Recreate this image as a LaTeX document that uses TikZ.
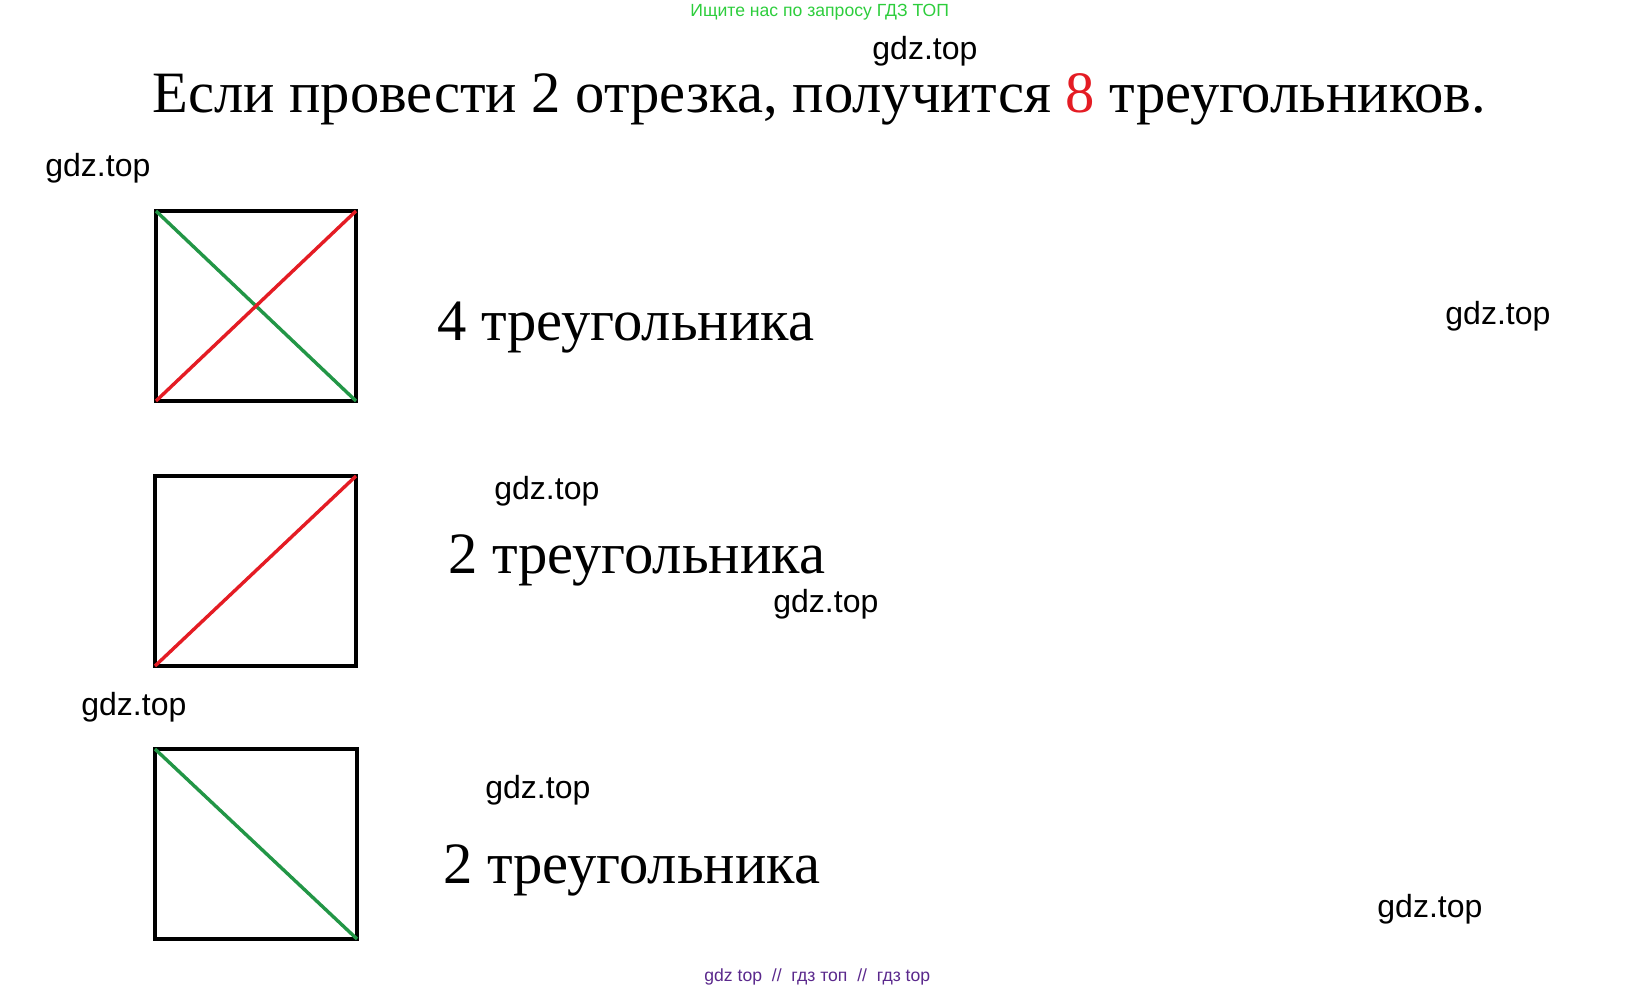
\documentclass[tikz,border=0pt]{standalone}
\usepackage{fontspec}
\setmainfont{Liberation Serif}
\newfontfamily\wmfont{Liberation Sans}
\definecolor{segred}{RGB}{228,28,36}
\definecolor{seggreen}{RGB}{34,150,70}
\definecolor{adgreen}{RGB}{45,205,60}
\definecolor{adpurple}{RGB}{90,40,140}
\begin{document}
\begin{tikzpicture}[x=0.5pt,y=-0.5pt,
  bigtext/.style={anchor=base west,inner sep=0pt,font=\fontsize{29.3}{31}\selectfont},
  wmark/.style={anchor=base west,inner sep=0pt,font=\wmfont\fontsize{16}{18}\selectfont},
  adtext/.style={anchor=base west,inner sep=0pt,font=\wmfont\fontsize{8.8}{10}\selectfont},
  box/.style={line width=2pt},
  redseg/.style={segred,line width=1.7pt},
  greenseg/.style={seggreen,line width=1.7pt}]
\useasboundingbox (0,0) rectangle (1641,989);
% header
\node[adtext,text=adgreen] (ad) at (690,17) {Ищите нас по запросу ГДЗ ТОП};
\node[bigtext] (title) at (152,113)
  {Если провести 2 отрезка, получится \textcolor{segred}{8} треугольников.};
% first square: both segments
\draw[box] (156,211) rectangle (356,401);
\draw[greenseg] (156,211) -- (356,401);
\draw[redseg] (156,401) -- (356,211);
\node[bigtext] (four) at (437,340) {4 треугольника};
% second square: red segment
\draw[box] (155,476) rectangle (356,666);
\draw[redseg] (155,666) -- (356,476);
\node[bigtext] (twoa) at (448,573) {2 треугольника};
% third square: green segment
\draw[box] (155,749) rectangle (357,939);
\draw[greenseg] (155,749) -- (357,939);
\node[bigtext] (twob) at (443,883) {2 треугольника};
% watermarks
\node[wmark] (wa) at (872,60) {gdz.top};
\node[wmark] (wb) at (45,177) {gdz.top};
\node[wmark] (wc) at (1445,324) {gdz.top};
\node[wmark] (wd) at (494,499) {gdz.top};
\node[wmark] (we) at (773,612) {gdz.top};
\node[wmark] (wf) at (81,715) {gdz.top};
\node[wmark] (wg) at (485,798) {gdz.top};
\node[wmark] (wh) at (1377,917) {gdz.top};
\node[adtext,text=adpurple] (foot) at (704,981) {gdz top \ // \ гдз топ \ // \ гдз top};
\end{tikzpicture}
\end{document}
